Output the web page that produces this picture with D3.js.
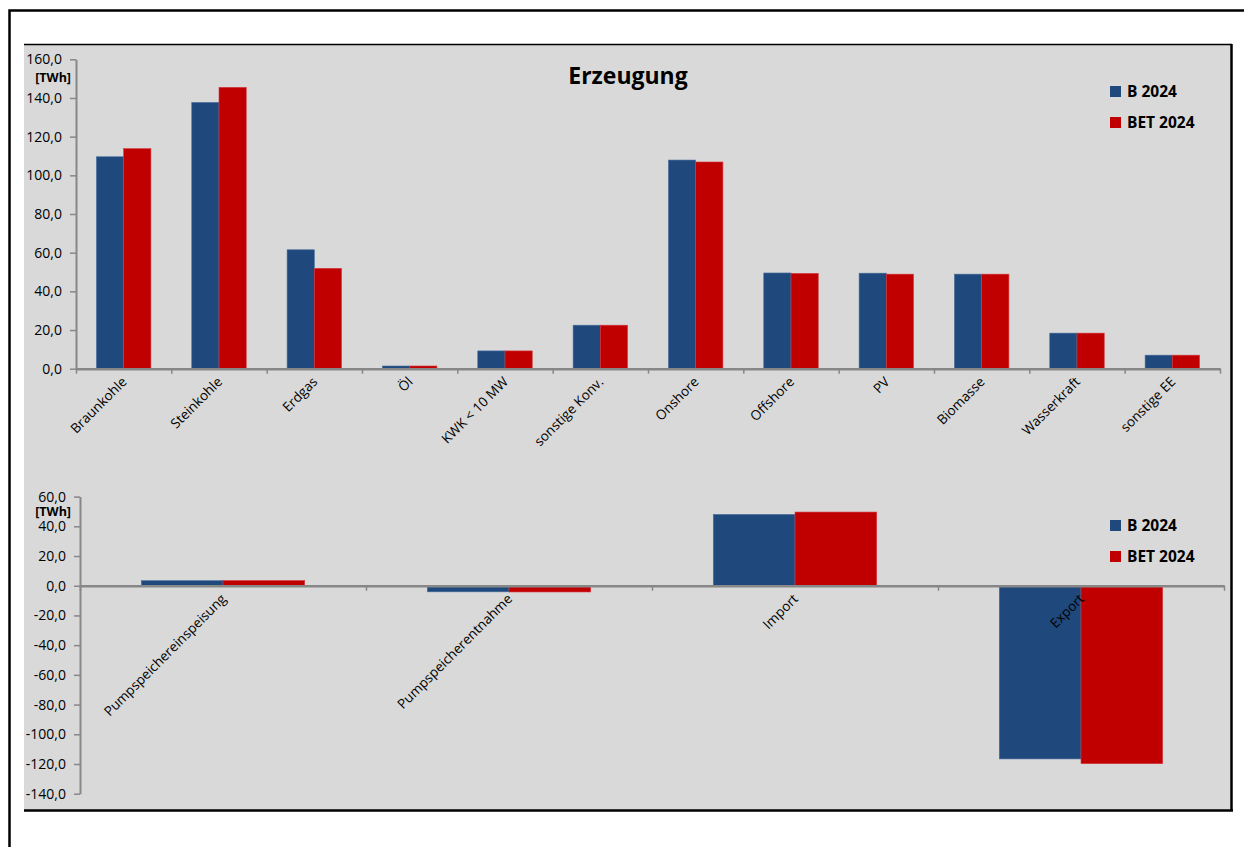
<!DOCTYPE html>
<html>
<head>
<meta charset="utf-8">
<script src="https://cdn.jsdelivr.net/npm/d3@7/dist/d3.min.js"></script>
<style>
  html, body { margin: 0; padding: 0; background: #ffffff; }
  svg { display: block; }
  text { font-family: "Open Sans", "Liberation Sans", sans-serif; fill: #000; }
</style>
</head>
<body>
<svg id="chart" width="1244" height="847"></svg>
<script>
// Erzeugung (generation) by source, TWh
const genCategories = ["Braunkohle", "Steinkohle", "Erdgas", "Öl", "KWK < 10 MW", "sonstige Konv.",
  "Onshore", "Offshore", "PV", "Biomasse", "Wasserkraft", "sonstige EE"];
const genB2024   = [109.6, 137.7, 61.5, 1.4, 9.2, 22.5, 107.9, 49.5, 49.4, 48.9, 18.4, 7.0];
const genBET2024 = [113.8, 145.5, 51.9, 1.4, 9.2, 22.5, 106.9, 49.3, 48.9, 48.9, 18.4, 7.0];
const genTicks = [0, 20, 40, 60, 80, 100, 120, 140, 160];

// Storage and cross-border exchange, TWh
const exCategories = ["Pumpspeichereinspeisung", "Pumpspeicherentnahme", "Import", "Export"];
const exB2024   = [3.4, -4.1, 48.0, -116.6];
const exBET2024 = [3.5, -4.2, 49.6, -119.8];
const exTicks = [-140, -120, -100, -80, -60, -40, -20, 0, 20, 40, 60];

const seriesNames = ["B 2024", "BET 2024"];
const seriesColors = ["#1F497D", "#C00000"];
const seriesStroke = ["#4a6f9e", "#d6393f"];

const fmt = d3.formatLocale({ decimal: ",", thousands: ".", grouping: [3], currency: ["", " €"], minus: "-" }).format(".1f");

const svg = d3.select("#chart");

// outer frame
svg.append("path").attr("d", "M9.5,847 V10.5 H1244")
  .attr("fill", "none").attr("stroke", "#000").attr("stroke-width", 2.5);

// plot area background
svg.append("rect").attr("x", 24).attr("y", 44).attr("width", 1207).attr("height", 766).attr("fill", "#D9D9D9");
svg.append("line").attr("x1", 24).attr("x2", 1232).attr("y1", 44.5).attr("y2", 44.5).attr("stroke", "#000").attr("stroke-width", 1.5);
svg.append("line").attr("x1", 1231.5).attr("x2", 1231.5).attr("y1", 44).attr("y2", 811).attr("stroke", "#000").attr("stroke-width", 2.5);
svg.append("line").attr("x1", 24).attr("x2", 1233).attr("y1", 810.5).attr("y2", 810.5).attr("stroke", "#000").attr("stroke-width", 2.5);

function drawPanel(cfg) {
  const g = svg.append("g");
  const n = cfg.categories.length;
  const x0 = d3.scaleBand().domain(cfg.categories).range([cfg.left, cfg.right])
    .paddingInner(0.4286).paddingOuter(0.2143);
  const x1 = d3.scaleBand().domain(seriesNames).range([0, x0.bandwidth()]);
  const y = d3.scaleLinear().domain(cfg.domain).range([cfg.bottom, cfg.top]);
  const idx = d3.scaleLinear().domain([0, n]).range([cfg.left, cfg.right]);

  // bars
  const series = [cfg.b, cfg.bet];
  series.forEach((vals, si) => {
    g.append("g").selectAll("rect").data(vals).join("rect")
      .attr("x", (d, i) => x0(cfg.categories[i]) + x1(seriesNames[si]))
      .attr("width", x1.bandwidth())
      .attr("y", d => y(Math.max(0, d)))
      .attr("height", d => Math.abs(y(d) - y(0)))
      .attr("fill", seriesColors[si])
      .attr("stroke", seriesStroke[si]).attr("stroke-width", 0.6);
  });

  // y axis
  const ya = g.append("g").attr("transform", `translate(${cfg.left},0)`)
    .call(d3.axisLeft(y).tickValues(cfg.ticks).tickFormat(fmt).tickSize(6).tickSizeOuter(0).tickPadding(8));
  ya.selectAll("path, line").attr("stroke", "#878787").attr("stroke-width", 1.5);
  ya.select(".domain").attr("stroke-width", 2);
  ya.selectAll("text").attr("font-family", "Open Sans").attr("font-size", 14).attr("fill", "#111");

  // x axis along the zero line, ticks between categories
  const xa = g.append("g").attr("transform", `translate(0,${y(0)})`)
    .call(d3.axisBottom(idx).tickValues(d3.range(n + 1)).tickFormat("").tickSize(5).tickSizeOuter(0));
  xa.selectAll("path, line").attr("stroke", "#878787").attr("stroke-width", 1.5);
  xa.select(".domain").attr("stroke-width", 2.5);

  // category labels
  g.append("g").selectAll("text").data(cfg.categories).join("text")
    .attr("transform", d => `translate(${x0(d) + x0.bandwidth() / 2 + 4},${y(0) + 14}) rotate(-45)`)
    .attr("text-anchor", "end")
    .attr("font-size", 13.5)
    .attr("fill", "#111")
    .text(d => d);

  // unit label
  g.append("text").attr("x", 71).attr("y", cfg.unitY).attr("text-anchor", "end")
    .attr("font-weight", "bold").attr("font-size", 12.5).text("[TWh]");

  // legend
  const lg = g.append("g").selectAll("g").data(seriesNames).join("g")
    .attr("transform", (d, i) => `translate(1110,${cfg.legendY + i * 31})`);
  lg.append("rect").attr("width", 11).attr("height", 11).attr("fill", (d, i) => seriesColors[i]);
  lg.append("text").attr("x", 17).attr("y", 11).attr("font-weight", "bold").attr("font-size", 15.5)
    .attr("fill", "#111").text(d => d);
}

drawPanel({
  categories: genCategories, b: genB2024, bet: genBET2024, ticks: genTicks,
  domain: [0, 160], left: 76, right: 1220, top: 59.3, bottom: 368.7,
  unitY: 82, legendY: 86
});

drawPanel({
  categories: exCategories, b: exB2024, bet: exBET2024, ticks: exTicks,
  domain: [-140, 60], left: 80, right: 1224, top: 496.6, bottom: 793.7,
  unitY: 516, legendY: 520
});

// title
svg.append("text").attr("x", 628).attr("y", 84).attr("text-anchor", "middle")
  .attr("font-weight", "bold").attr("font-size", 23).attr("fill", "#000").text("Erzeugung");
</script>
</body>
</html>
